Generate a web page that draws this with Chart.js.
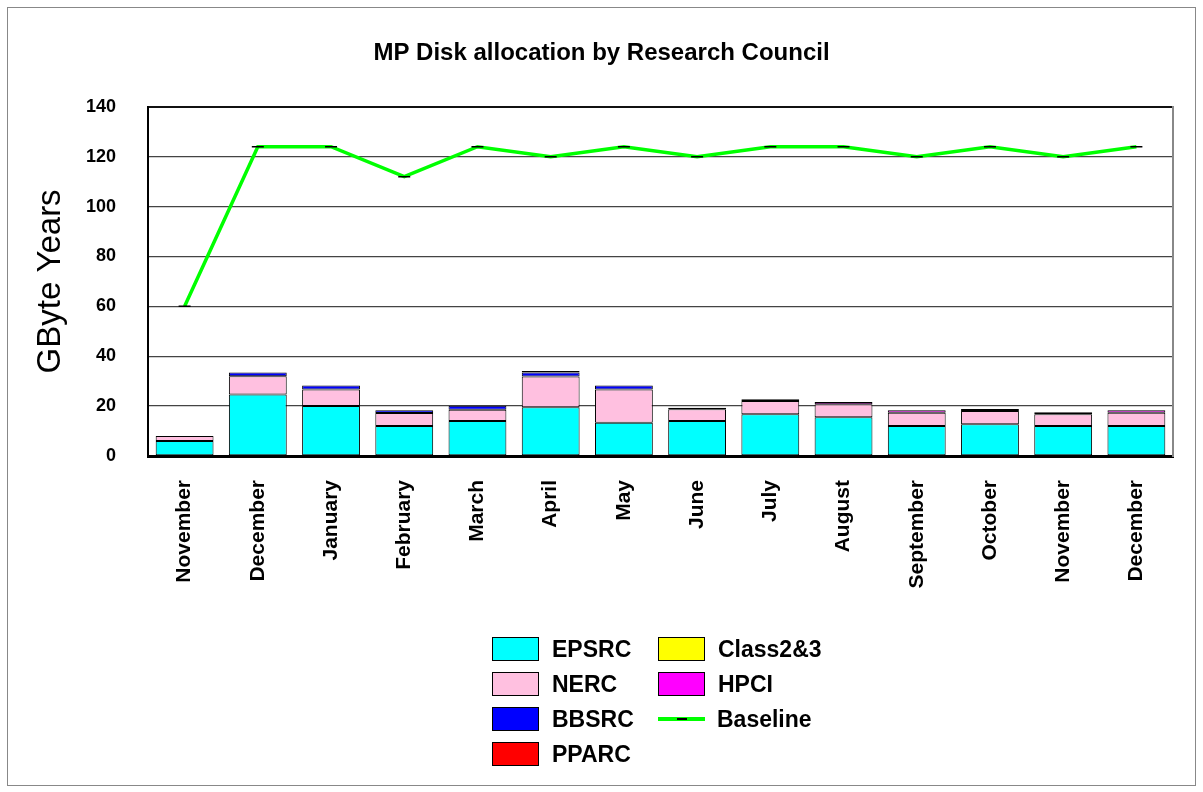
<!DOCTYPE html>
<html>
<head>
<meta charset="utf-8">
<title>MP Disk allocation by Research Council</title>
<script src="https://cdn.jsdelivr.net/npm/chart.js@4.4.1/dist/chart.umd.min.js"></script>
<style>
  body { margin: 0; background: #fff; font-family: "Liberation Sans", Arial, sans-serif; }
  #wrap { position: relative; width: 1203px; height: 792px; }
  #frame { position: absolute; left: 7px; top: 7px; width: 1187px; height: 777px; border: 1px solid #888; }
  #mpChart { position: absolute; left: 0; top: 0; }
  #legend { position: absolute; left: 492px; top: 637px; display: grid;
    grid-template-columns: 166px 160px; grid-auto-flow: column; grid-template-rows: repeat(4, 35px); }
  .item { display: flex; align-items: flex-start; font-weight: bold; font-size: 23px; color: #000; }
  .sw { width: 47px; height: 24px; border: 1px solid #000; box-sizing: border-box; margin-right: 13px; flex: none; }
  .ln { width: 47px; height: 24px; margin-right: 12px; position: relative; flex: none; }
  .ln:before { content: ""; position: absolute; left: 0; right: 0; top: 10px; height: 4px; background: #00ff00; }
  .ln:after { content: ""; position: absolute; left: 19px; width: 10px; top: 11px; height: 2px; background: #000; }
  .item span { line-height: 25px; }
</style>
</head>
<body>
<div id="wrap">
  <div id="frame"></div>
  <canvas id="mpChart" width="1203" height="792"></canvas>
  <div id="legend"></div>
</div>
<script>
/* MP disk allocation, GByte years per month */
var months = ['November', 'December', 'January', 'February', 'March', 'April', 'May',
              'June', 'July', 'August', 'September', 'October', 'November', 'December'];

var epsrc   = [6, 24.7, 20, 12, 14, 19.5, 13.3, 14, 16.7, 15.5, 12, 12.7, 12, 12];
var nerc    = [2, 7.3, 6.7, 5.2, 4.5, 12.4, 13.4, 4.7, 5.4, 5.2, 5.3, 5.3, 4.7, 5.3];
var bbsrc   = [0, 1.5, 1.6, 1.1, 1.6, 1.6, 1.6, 0, 0, 0, 0, 0, 0.8, 0];
var pparc   = [0, 0, 0, 0, 0, 0, 0, 0, 0, 0, 0, 0, 0, 0];
var class23 = [0, 0, 0, 0, 0, 0.6, 0, 0.6, 0, 0, 0, 0, 0, 0];
var hpci    = [0, 0, 0, 0, 0, 0, 0, 0, 0.7, 0.9, 1.0, 0.8, 0, 1.0];
var baseline = [60, 124, 124, 112, 124, 120, 124, 120, 124, 124, 120, 124, 120, 124];

var yTicks = [0, 20, 40, 60, 80, 100, 120, 140];

var font = '"Liberation Sans", Arial, sans-serif';

function barSet(label, data, colour) {
    return {
        type: 'bar',
        label: label,
        data: data,
        backgroundColor: colour,
        borderColor: '#000',
        // no outline for empty segments
        borderWidth: function (c) { return c.raw ? 1 : 0; },
        borderSkipped: false,
        barPercentage: 0.79,
        categoryPercentage: 1,
        stack: 'rc',
        order: 1
    };
}

var ctx = document.getElementById('mpChart').getContext('2d');
var myChart = new Chart(ctx, {
    data: {
        labels: months,
        datasets: [
            barSet('EPSRC', epsrc, '#00ffff'),
            barSet('NERC', nerc, '#ffc0e0'),
            barSet('BBSRC', bbsrc, '#0000ff'),
            barSet('PPARC', pparc, '#ff0000'),
            barSet('Class2&3', class23, '#ffff00'),
            barSet('HPCI', hpci, '#ff00ff'),
            {
                type: 'line',
                label: 'Baseline',
                data: baseline,
                borderColor: '#00ff00',
                borderWidth: 3.5,
                pointStyle: 'line',
                pointRadius: 6,
                pointBorderColor: '#000',
                pointBorderWidth: 1.5,
                tension: 0,
                order: 0
            }
        ]
    },
    options: {
        responsive: false,
        animation: false,
        layout: { padding: { left: 0, right: 0, top: 0, bottom: 186 } },
        plugins: {
            legend: { display: false },
            tooltip: { enabled: false },
            title: {
                display: true,
                text: 'MP Disk allocation by Research Council',
                color: '#000',
                font: { family: font, size: 24, weight: 'bold' },
                padding: { top: 39, bottom: 39 }
            }
        },
        scales: {
            x: {
                stacked: true,
                grid: { display: false, drawTicks: false },
                border: { display: true, color: '#000', width: 3 },
                ticks: {
                    autoSkip: false,
                    minRotation: 90,
                    maxRotation: 90,
                    padding: 24,
                    color: '#000',
                    font: { family: font, size: 21, weight: 'bold' }
                },
                afterFit: function (scale) { scale.height = 150; }
            },
            y: {
                stacked: true,
                min: 0,
                max: 140,
                afterBuildTicks: function (scale) {
                    scale.ticks = yTicks.map(function (v) { return { value: v }; });
                },
                grid: {
                    drawTicks: false,
                    color: function (c) { return c.tick && c.tick.value === 140 ? '#111' : '#444'; },
                    lineWidth: function (c) { return c.tick && c.tick.value === 140 ? 2 : 1.3; }
                },
                border: { display: true, color: '#000', width: 2 },
                ticks: {
                    padding: 32,
                    color: '#000',
                    font: { family: font, size: 18, weight: 'bold' }
                },
                title: {
                    display: true,
                    text: 'GByte Years',
                    color: '#000',
                    font: { family: font, size: 33 },
                    padding: { top: 31, bottom: 0 }
                },
                afterFit: function (scale) { scale.width = 148; }
            },
            right: {
                position: 'right',
                min: 0,
                max: 140,
                grid: { display: false, drawTicks: false },
                border: { display: true, color: '#888', width: 2 },
                ticks: { display: false },
                afterFit: function (scale) { scale.width = 30; }
            }
        }
    }
});

/* legend, two columns as in the original */
var legendBox = document.getElementById('legend');
myChart.data.datasets.forEach(function (ds) {
    var item = document.createElement('div');
    item.className = 'item';
    var mark = document.createElement('div');
    if (ds.type === 'line') {
        mark.className = 'ln';
    } else {
        mark.className = 'sw';
        mark.style.background = ds.backgroundColor;
    }
    var txt = document.createElement('span');
    txt.textContent = ds.label;
    item.appendChild(mark);
    item.appendChild(txt);
    legendBox.appendChild(item);
});
</script>
</body>
</html>
